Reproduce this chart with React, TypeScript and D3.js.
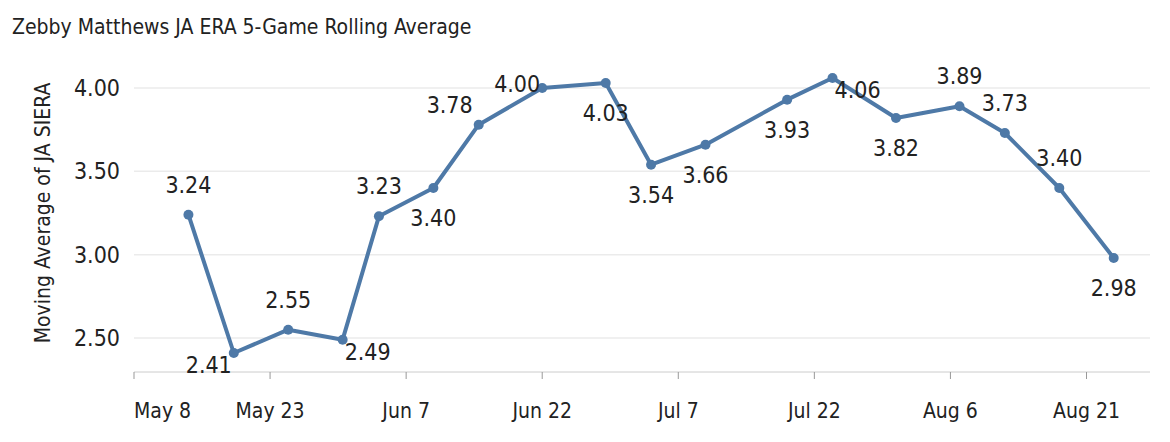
import React from 'react';
import * as d3 from 'd3';

const dates = ['2024-05-14','2024-05-19','2024-05-25','2024-05-31','2024-06-04','2024-06-10','2024-06-15','2024-06-22','2024-06-29','2024-07-04','2024-07-10','2024-07-19','2024-07-24','2024-07-31','2024-08-07','2024-08-12','2024-08-18','2024-08-24'];
const values = [3.24,2.41,2.55,2.49,3.23,3.40,3.78,4.00,4.03,3.54,3.66,3.93,4.06,3.82,3.89,3.73,3.40,2.98];
// label placement: 'a' above, 'b' below, 'bl' below-left, 'br' below-right, 'al' above-left, 'l' left, 'r' right
const labelPos = ['a','bl','a','br','a','b','al','l','b','b','b','b','r','b','a','a','a','b'];
const yTicks = [2.5, 3.0, 3.5, 4.0];
const xTickDates = ['2024-05-08','2024-05-23','2024-06-07','2024-06-22','2024-07-07','2024-07-22','2024-08-06','2024-08-21'];

const W = 1170, H = 442;
const font = '"DejaVu Sans Condensed","Liberation Sans Narrow","Roboto",sans-serif';
const color = '#4e79a7';

export default function App() {
  const parse = d3.timeParse('%Y-%m-%d');
  const x = d3.scaleTime().domain([parse('2024-05-08')!, parse('2024-08-28')!]).range([134, 1150]);
  const y = d3.scaleLinear().domain([2.5, 4.0]).range([338, 88]);
  const pts = dates.map((d, i) => ({ x: x(parse(d)!), y: y(values[i]), v: values[i], p: labelPos[i] }));
  const line = d3.line<{ x: number; y: number }>().x(d => d.x).y(d => d.y);
  const fmt = d3.timeFormat('%b %-d');
  const off = (p: string) => {
    switch (p) {
      case 'a': return [0, -22, 'middle'];
      case 'b': return [0, 38, 'middle'];
      case 'bl': return [-2, 20, 'end'];
      case 'br': return [2, 20, 'start'];
      case 'al': return [-6, -12, 'end'];
      case 'l': return [-2, 4, 'end'];
      case 'r': return [2, 20, 'start'];
      default: return [0, -22, 'middle'];
    }
  };
  return (
    <svg width={W} height={H} style={{ position: 'absolute', left: 0, top: 0, background: '#fff' }} fontFamily={font} fontStretch="condensed">
      <text x={12} y={34} fontSize={21} fill="#222">Zebby Matthews JA ERA 5-Game Rolling Average</text>
      {yTicks.map(t => (
        <g key={t}>
          <line x1={134} x2={1150} y1={y(t)} y2={y(t)} stroke="#ebebeb" strokeWidth={1.5} />
          <text x={120} y={y(t) + 8} textAnchor="end" fontSize={23} fill="#222">{t.toFixed(2)}</text>
        </g>
      ))}
      <line x1={134} x2={1150} y1={372} y2={372} stroke="#ccc" />
      {xTickDates.map((d, i) => {
        const xx = x(parse(d)!);
        return (
          <g key={d}>
            <line x1={xx} x2={xx} y1={372} y2={379} stroke="#999" />
            <text x={xx} y={418} textAnchor={i === 0 ? 'start' : 'middle'} fontSize={21} fill="#222">{fmt(parse(d)!)}</text>
          </g>
        );
      })}
      <text transform="translate(50,213) rotate(-90)" textAnchor="middle" fontSize={21} fill="#222">Moving Average of JA SIERA</text>
      <path d={line(pts) || ''} fill="none" stroke={color} strokeWidth={4} strokeLinejoin="round" />
      {pts.map((p, i) => (
        <circle key={i} cx={p.x} cy={p.y} r={5} fill={color} />
      ))}
      {pts.map((p, i) => {
        const [dx, dy, anchor] = off(p.p) as [number, number, string];
        return (
          <text key={'l' + i} x={p.x + dx} y={p.y + dy} textAnchor={anchor} fontSize={23} fill="#222">{p.v.toFixed(2)}</text>
        );
      })}
    </svg>
  );
}
